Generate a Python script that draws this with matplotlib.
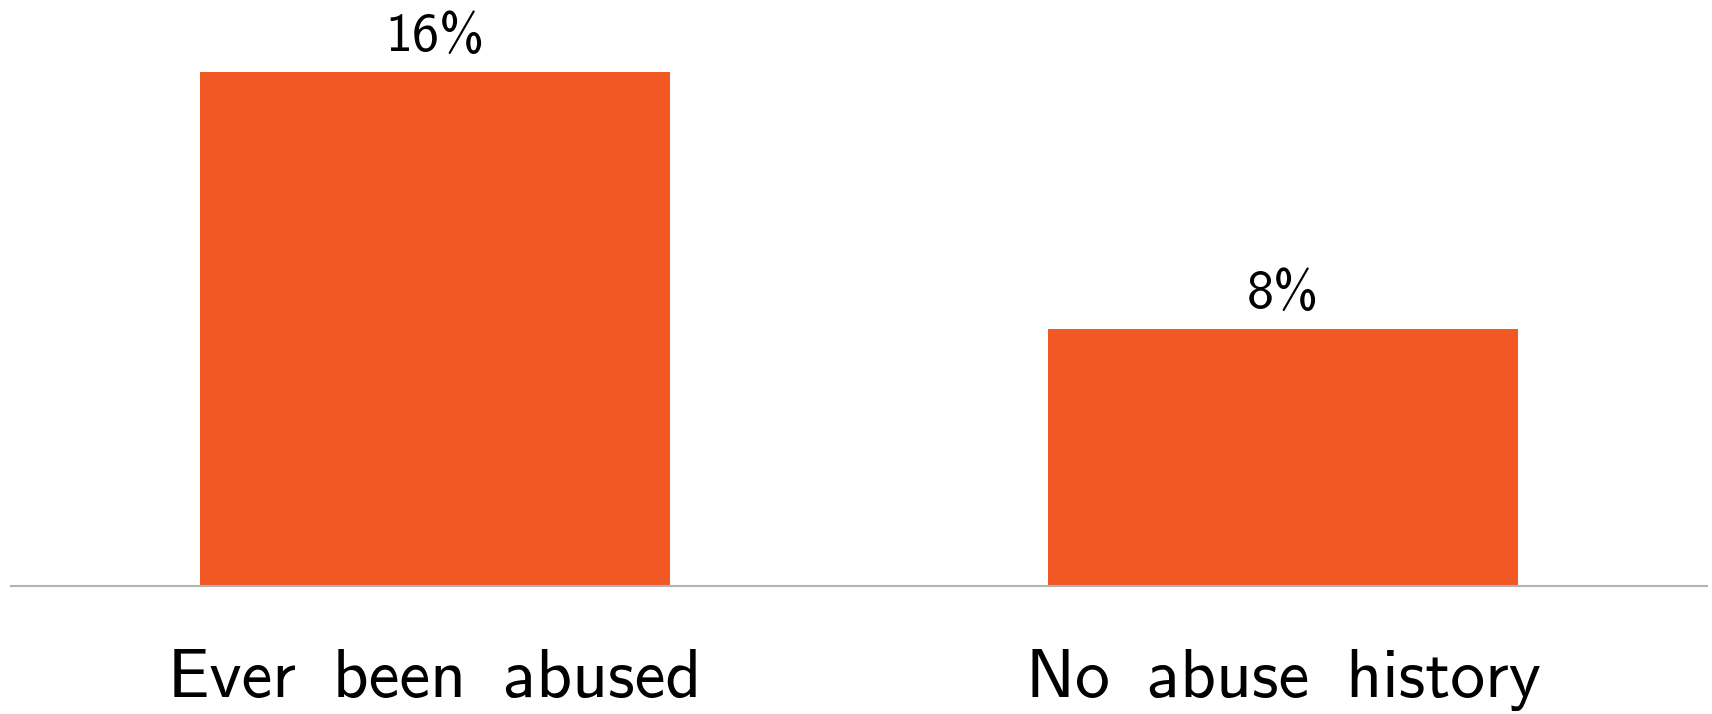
import matplotlib
matplotlib.use("Agg")
import matplotlib.pyplot as plt

# word gaps widened with a thin space (falls back to DejaVu for that glyph)
categories = ["Ever \u2009been \u2009abused", "No \u2009abuse \u2009history"]
values = [16, 8]
value_labels = ["16%", "8%"]

BAR_COLOR = "#F15824"
AXIS_COLOR = "#B3B3B3"

plt.rcParams["font.family"] = ["cmss10", "DejaVu Sans"]
plt.rcParams["axes.unicode_minus"] = False

fig = plt.figure(figsize=(17.12, 7.14), dpi=100)
ax = fig.add_axes([11 / 1712, 128.5 / 714, 1696 / 1712, 585.5 / 714])

x = range(len(categories))
bars = ax.bar(x, values, width=0.555, color=BAR_COLOR, zorder=2)

for rect, lab in zip(bars, value_labels):
    ax.annotate(lab, (rect.get_x() + rect.get_width() / 2, rect.get_height()),
                xytext=(0, 15), textcoords="offset points",
                ha="center", va="baseline", fontsize=39, color="black")

ax.set_xlim(-0.5, 1.5)
ax.set_ylim(0, 16 * 585.5 / 513.5)

ax.set_xticks(list(x))
ax.set_xticklabels(categories, fontsize=50)
ax.tick_params(axis="x", length=0, pad=46)
ax.set_yticks([])

for side in ["top", "right", "left"]:
    ax.spines[side].set_visible(False)
ax.spines["bottom"].set_color(AXIS_COLOR)
ax.spines["bottom"].set_linewidth(1.5)
ax.spines["bottom"].set_zorder(3)

fig.savefig("out.png", dpi=100)
